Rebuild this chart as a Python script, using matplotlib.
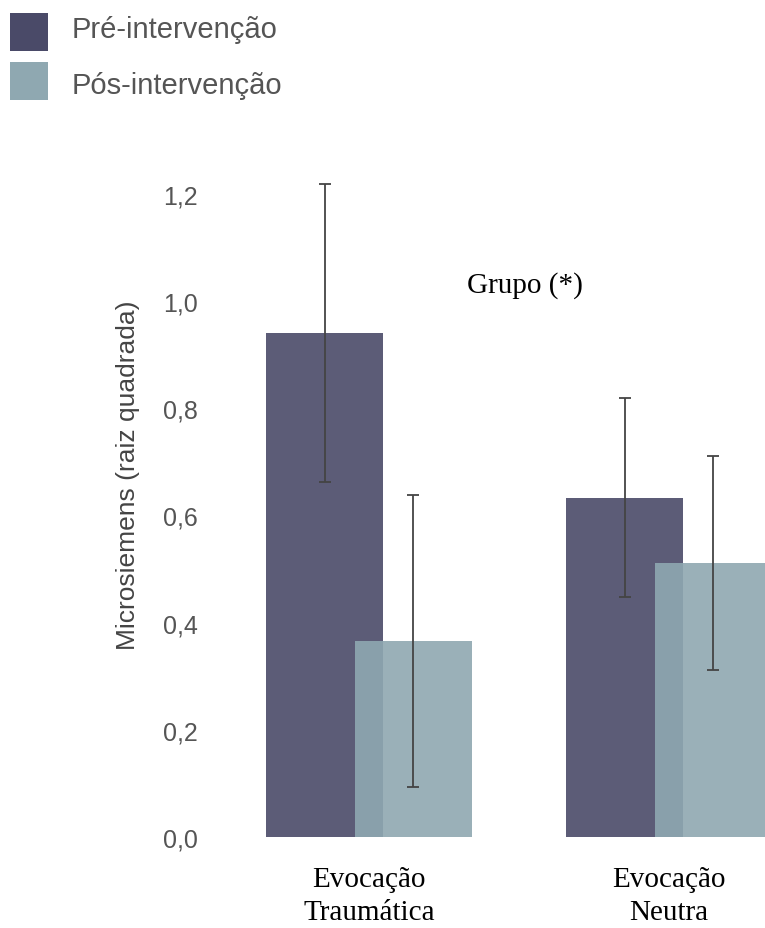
import matplotlib
matplotlib.use("Agg")
import matplotlib.pyplot as plt
import matplotlib.patches as mpatches
import numpy as np

# Données
categories = ["Evocação\nTraumática", "Evocação\nNeutra"]
series_name = ["Pré-intervenção", "Pós-intervenção"]
pre_vals = [0.94, 0.633]
pre_err = [0.278, 0.186]
pos_vals = [0.366, 0.511]
pos_err = [0.272, 0.200]
yticks = [0.0, 0.2, 0.4, 0.6, 0.8, 1.0, 1.2]

colors = ["#4a4a68", "#8fa8b1"]
width = 0.39
offset = 0.148

W, H = 765, 929
fig = plt.figure(figsize=(W / 100, H / 100), dpi=100)
ax = fig.add_axes([230 / W, 91 / H, (W - 230) / W, 670 / H])

x = np.arange(len(categories))
ax.bar(x - offset, pre_vals, width, color=colors[0], alpha=0.9, zorder=2)
ax.bar(x + offset, pos_vals, width, color=colors[1], alpha=0.9, zorder=3)

err_kw = dict(fmt="none", ecolor="#444444", elinewidth=1.3, capsize=4.5,
              capthick=1.3, zorder=4)
ax.errorbar(x - offset, pre_vals, yerr=pre_err, **err_kw)
ax.errorbar(x + offset, pos_vals, yerr=pos_err, **err_kw)

ax.set_xlim(-0.4633, 1.32)
ax.set_ylim(0, 1.25)

for s in ax.spines.values():
    s.set_visible(False)

ax.set_yticks(yticks)
ax.set_yticklabels([f"{v:.1f}".replace(".", ",") for v in yticks])
ax.tick_params(axis="y", length=0, pad=23, labelsize=18, labelcolor="#555555")
for t in ax.get_yticklabels():
    t.set_fontfamily("Liberation Sans")

ax.set_xticks(x)
ax.set_xticklabels(categories, fontfamily="Liberation Serif", fontsize=21,
                   linespacing=1.33)
ax.tick_params(axis="x", length=0, pad=21, labelcolor="black")

ax.text(0.52, 1.03, "Grupo (*)", fontfamily="Liberation Serif", fontsize=21,
        ha="center", va="center")

fig.text(128 / W, 1 - 475 / H, "Microsiemens (raiz quadrada)",
         rotation=90, ha="center", va="center", fontsize=19,
         fontfamily="Liberation Sans", color="#444444")

# Légende (carrés + textes placés à la main)
sq_top = [14, 63]
txt_base = [38, 94]
for c, n, st, tb in zip(colors, series_name, sq_top, txt_base):
    fig.add_artist(mpatches.Rectangle((10 / W, 1 - (st + 38) / H), 38 / W, 38 / H,
                                      transform=fig.transFigure, color=c, lw=0))
    fig.text(72 / W, 1 - tb / H, n, fontsize=21, fontfamily="Liberation Sans",
             color="#555555", ha="left", va="baseline")

fig.savefig("out.png", dpi=100)
